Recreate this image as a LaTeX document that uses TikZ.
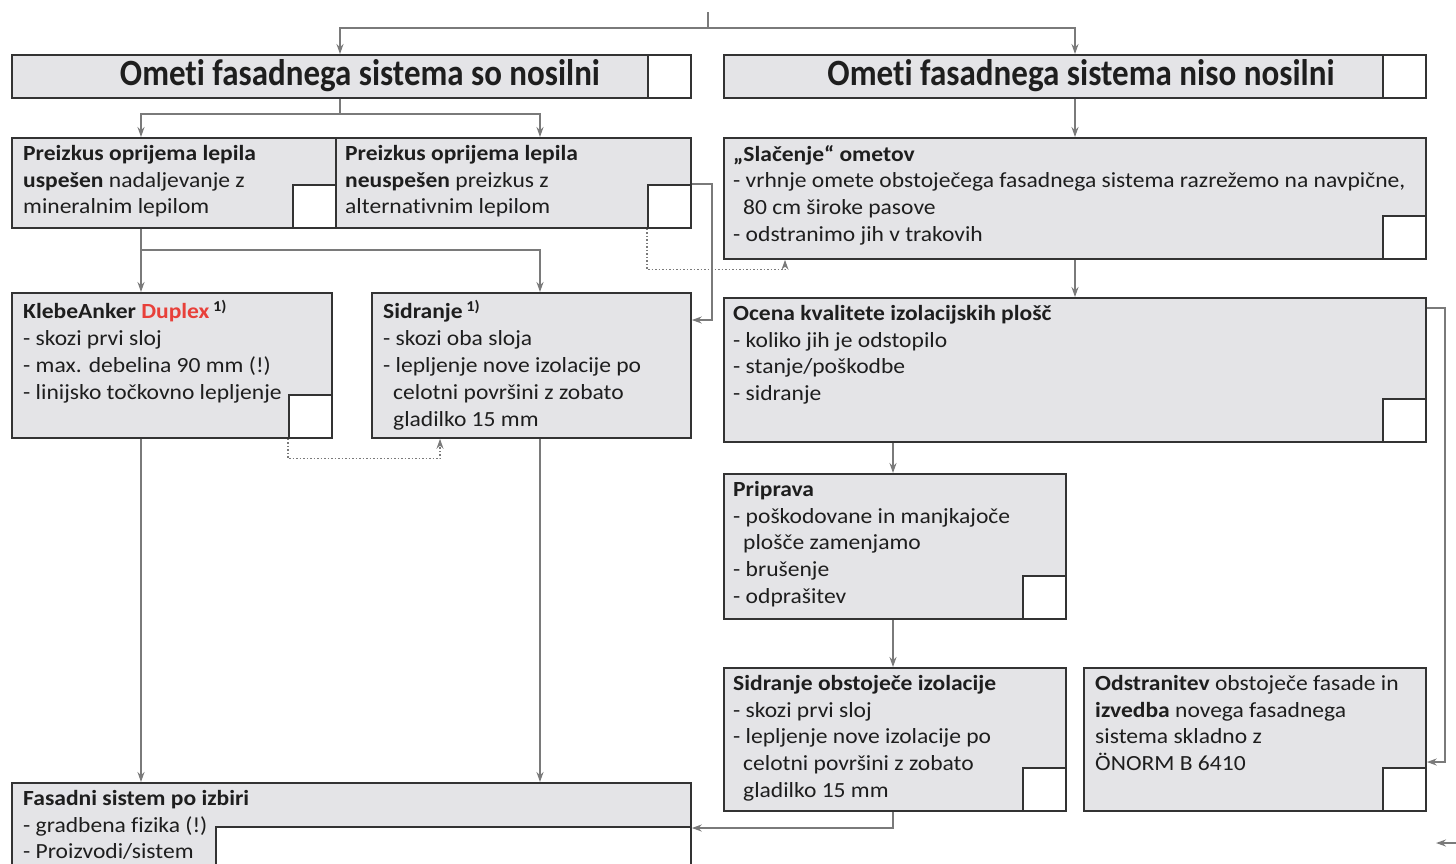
\documentclass[tikz,border=0pt]{standalone}
\usepackage{fontspec}
\setmainfont[Ligatures=NoCommon]{Carlito}
\newfontfamily\bodyfont[FakeStretch=1.09,Ligatures=NoCommon]{Carlito}
\usetikzlibrary{arrows.meta,calc}
\definecolor{boxfill}{HTML}{E4E4E7}
\definecolor{boxline}{HTML}{333333}
\definecolor{arrowc}{HTML}{7A7A7A}
\definecolor{dupred}{HTML}{E8403A}
\definecolor{textc}{HTML}{1E1E1E}
\tikzset{
  box/.style={draw=boxline, line width=1.8pt, fill=boxfill, inner sep=0pt, anchor=north west},
  sqbox/.style={draw=boxline, line width=1.8pt, fill=white, inner sep=0pt, minimum width=43pt, minimum height=43pt, anchor=south east},
  txt/.style={anchor=north west, align=left, inner sep=0pt, text=textc, font=\bodyfont\fontsize{21.6}{26.8}\selectfont},
  hdr/.style={inner sep=0pt, text=textc},
  arr/.style={draw=arrowc, line width=1.6pt, -{Stealth[length=10pt,width=7pt]}},
  ln/.style={draw=arrowc, line width=1.6pt},
  dotarr/.style={draw=arrowc, line width=1.3pt, dash pattern=on 1.5pt off 2pt, -{Stealth[length=10pt,width=7pt]}},
}
\begin{document}
\begin{tikzpicture}[x=1pt,y=-1pt]
\useasboundingbox[fill=white] (0,0) rectangle (1456,863);

% boxes
\node[box, minimum width=679pt, minimum height=43pt] (A) at (11,54) {};
\node[sqbox] (Asq) at (A.south east) {};
\node[box, minimum width=702pt, minimum height=43pt] (B) at (723,54) {};
\node[sqbox] (Bsq) at (B.south east) {};

\node[box, minimum width=324pt, minimum height=90pt] (C) at (11,137) {};
\node[sqbox] (Csq) at (C.south east) {};
\node[box, minimum width=355pt, minimum height=90pt] (D) at (335,137) {};
\node[sqbox] (Dsq) at (D.south east) {};

\node[box, minimum width=702pt, minimum height=121pt] (E) at (723,137) {};
\node[sqbox] (Esq) at (E.south east) {};

\node[box, minimum width=320pt, minimum height=145pt] (K) at (11,292) {};
\node[sqbox] (Ksq) at (K.south east) {};
\node[box, minimum width=319pt, minimum height=145pt] (L) at (371,292) {};

\node[box, minimum width=702pt, minimum height=144pt] (F) at (723,297) {};
\node[sqbox] (Fsq) at (F.south east) {};

\node[box, minimum width=342pt, minimum height=145pt] (G) at (723,473) {};
\node[sqbox] (Gsq) at (G.south east) {};

\node[box, minimum width=342pt, minimum height=143pt] (H) at (723,667) {};
\node[sqbox] (Hsq) at (H.south east) {};
\node[box, minimum width=342pt, minimum height=143pt] (I) at (1083,667) {};
\node[sqbox] (Isq) at (I.south east) {};

\node[box, minimum width=679pt, minimum height=110pt] (J) at (11,782) {};
\node[draw=boxline, line width=1.8pt, fill=white, inner sep=0pt, anchor=north west, minimum width=475pt, minimum height=70pt] (Jsq) at (215,826) {};

% header texts
\node[hdr] (At) at (360,76) {\resizebox{480pt}{26pt}{\bfseries Ometi fasadnega sistema so nosilni}};
\node[hdr] (Bt) at (1081,76) {\resizebox{507pt}{26pt}{\bfseries Ometi fasadnega sistema niso nosilni}};

% body texts
\node[txt] (Ct) at ([xshift=12pt,yshift=-8pt]C.north west) {\textbf{Preizkus oprijema lepila}\\\textbf{uspešen} nadaljevanje z\\mineralnim lepilom};
\node[txt] (Dt) at ([xshift=10pt,yshift=-8pt]D.north west) {\textbf{Preizkus oprijema lepila}\\\textbf{neuspešen} preizkus z\\alternativnim lepilom};
\node[txt] (Et) at ([xshift=10pt,yshift=-8pt]E.north west) {\textbf{„Slačenje“ ometov}\\- vrhnje omete obstoječega fasadnega sistema razrežemo na navpične,\\\hspace*{10pt}80 cm široke pasove\\- odstranimo jih v trakovih};
\node[txt] (Kt) at ([xshift=12pt,yshift=-8pt]K.north west) {\textbf{KlebeAnker \textcolor{dupred}{Duplex}}\,\textsuperscript{\textbf{1)}}\\- skozi prvi sloj\\- max. debelina 90 mm (!)\\- linijsko točkovno lepljenje};
\node[txt] (Lt) at ([xshift=12pt,yshift=-8pt]L.north west) {\textbf{Sidranje}\,\textsuperscript{\textbf{1)}}\\- skozi oba sloja\\- lepljenje nove izolacije po\\\hspace*{10pt}celotni površini z zobato\\\hspace*{10pt}gladilko 15 mm};
\node[txt] (Ft) at ([xshift=10pt,yshift=-8pt]F.north west) {\textbf{Ocena kvalitete izolacijskih plošč}\\- koliko jih je odstopilo\\- stanje/poškodbe\\- sidranje};
\node[txt] (Gt) at ([xshift=10pt,yshift=-8pt]G.north west) {\textbf{Priprava}\\- poškodovane in manjkajoče\\\hspace*{10pt}plošče zamenjamo\\- brušenje\\- odprašitev};
\node[txt] (Ht) at ([xshift=10pt,yshift=-8pt]H.north west) {\textbf{Sidranje obstoječe izolacije}\\- skozi prvi sloj\\- lepljenje nove izolacije po\\\hspace*{10pt}celotni površini z zobato\\\hspace*{10pt}gladilko 15 mm};
\node[txt] (It) at ([xshift=12pt,yshift=-8pt]I.north west) {\textbf{Odstranitev} obstoječe fasade in\\\textbf{izvedba} novega fasadnega\\sistema skladno z\\ÖNORM B 6410};
\node[txt] (Jt) at ([xshift=12pt,yshift=-8pt]J.north west) {\textbf{Fasadni sistem po izbiri}\\- gradbena fizika (!)\\- Proizvodi/sistem};

% connectors
\coordinate (t0) at (708,12);
\coordinate (t1) at (708,28);
\draw[ln] (t0) -- (t1);
\draw[arr] (t1) -| ([xshift=329pt]A.north west);
\draw[arr] (t1) -| ([xshift=352pt]B.north west);

\coordinate (a1) at ($([xshift=329pt]A.south west)+(0,15)$);
\draw[ln] ([xshift=329pt]A.south west) -- (a1);
\draw[arr] (a1) -| ([xshift=130pt]C.north west);
\draw[arr] (a1) -| ([xshift=205pt]D.north west);

\coordinate (c1) at ($([xshift=130pt]C.south west)+(0,21)$);
\draw[arr] ([xshift=130pt]C.south west) -- ([xshift=130pt]K.north west);
\draw[arr] (c1) -| ([xshift=169pt]L.north west);

\draw[arr] (Dsq.north east) -- ++(20,0) |- ([yshift=-28pt]L.north east);
\draw[dotarr] (Dsq.south west) -- ++(0,41) -| ([xshift=62pt]E.south west);
\draw[dotarr] (Ksq.south west) -- ++(0,20) -| ([xshift=69pt]L.south west);

\draw[arr] ([xshift=130pt]K.south west) -- ([xshift=130pt]J.north west);
\draw[arr] ([xshift=169pt]L.south west) -- ([xshift=529pt]J.north west);

\draw[arr] ([xshift=352pt]B.south west) -- ([xshift=352pt]E.north west);
\draw[arr] ([xshift=352pt]E.south west) -- ([xshift=352pt]F.north west);
\draw[arr] ([xshift=170pt]F.south west) -- ([xshift=170pt]G.north west);
\draw[arr] ([xshift=170pt]G.south west) -- ([xshift=170pt]H.north west);
\draw[arr] ([xshift=170pt]H.south west) |- ([yshift=-46pt]J.north east);
\draw[arr] ([yshift=-11pt]F.north east) -- ++(18,0) |- ([yshift=-95pt]I.north east);

\coordinate (br0) at (1458,843);
\coordinate (br1) at (1436,843);
\draw[arr] (br0) -- (br1);
\end{tikzpicture}
\end{document}
